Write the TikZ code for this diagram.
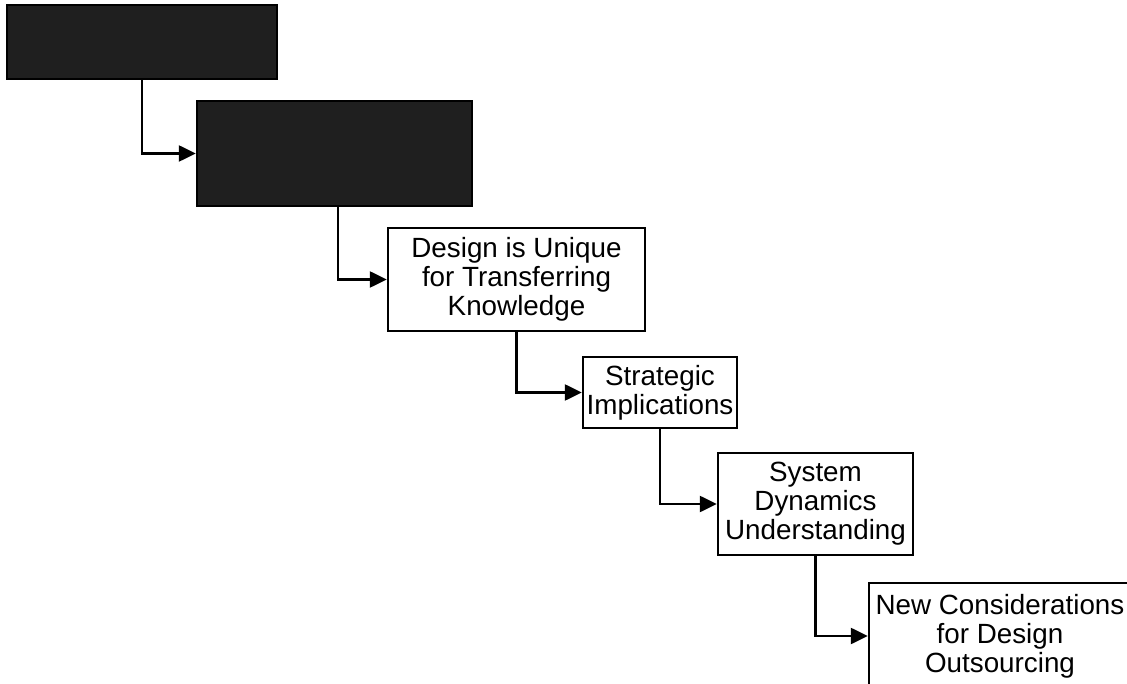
\documentclass[tikz,border=0pt]{standalone}
\usepackage{fontspec}
\setmainfont{Liberation Sans}
\usetikzlibrary{arrows.meta}
\begin{document}
\begin{tikzpicture}[x=1pt,y=-1pt,
  stagebox/.style={draw=black, line width=2.4pt, fill=white, align=center,
    inner sep=0pt, font=\fontsize{27.8}{29}\selectfont},
  darkbox/.style={draw=black, line width=2.4pt, fill=black!88, inner sep=0pt},
  link/.style={line width=2.4pt, -{Triangle[length=17pt,width=16pt]}}]
\useasboundingbox (0,0) rectangle (1127,684);
\clip (0,0) rectangle (1127,684);
\fill[white] (0,0) rectangle (1127,684);

% shaded (blacked-out) stages
\node[darkbox, minimum width=270pt, minimum height=74pt] (s1) at (142,42) {};
\node[darkbox, minimum width=275pt, minimum height=105pt] (s2) at (334.5,153.5) {};

% labelled stages
\node[stagebox, minimum width=257pt, minimum height=103pt] (s3) at (516.5,279.5)
  {Design is Unique\\for Transferring\\Knowledge};
\node[stagebox, minimum width=154pt, minimum height=71pt] (s4) at (660,392.5)
  {Strategic\\Implications};
\node[stagebox, minimum width=195pt, minimum height=102pt] (s5) at (815.5,504)
  {System\\Dynamics\\Understanding};
\node[stagebox, minimum width=262pt, minimum height=106pt] (s6) at (1000,636)
  {New Considerations\\for Design\\Outsourcing};

% step connectors
\draw[link] (s1.south) |- (s2.west);
\draw[link] ([xshift=3.5pt]s2.south) |- (s3.west);
\draw[link] (s3.south) |- (s4.west);
\draw[link] (s4.south) |- (s5.west);
\draw[link] (s5.south) |- (s6.west);
\end{tikzpicture}
\end{document}
